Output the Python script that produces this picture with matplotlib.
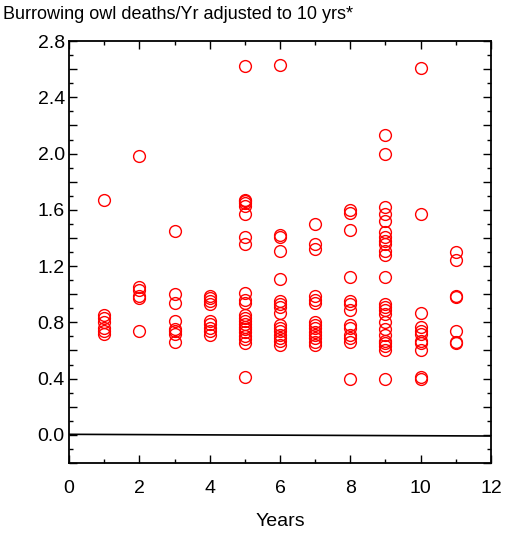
import numpy as np
import matplotlib.pyplot as plt
from matplotlib.ticker import MultipleLocator, FuncFormatter

plt.rcParams['font.family'] = ['Liberation Sans', 'DejaVu Sans']

# deaths/yr per site, grouped by number of years
yr1 = [1.67, 0.85, 0.83, 0.80, 0.76, 0.74, 0.72]
yr2 = [1.98, 1.05, 1.03, 0.99, 0.97, 0.74]
yr3 = [1.45, 1.00, 0.94, 0.81, 0.75, 0.74, 0.72, 0.66]
yr4 = [0.99, 0.97, 0.95, 0.93, 0.81, 0.79, 0.76, 0.74, 0.71]
yr5 = [2.62, 1.67, 1.66, 1.65, 1.63, 1.57, 1.41, 1.36, 1.01, 0.96, 0.94,
       0.85, 0.83, 0.81, 0.79, 0.77, 0.75, 0.73, 0.70, 0.68, 0.65, 0.41]
yr6 = [2.63, 1.42, 1.41, 1.31, 1.11, 0.95, 0.93, 0.91, 0.87,
       0.78, 0.76, 0.74, 0.71, 0.69, 0.67, 0.64]
yr7 = [1.50, 1.36, 1.32, 0.99, 0.96, 0.94, 0.80, 0.78, 0.76, 0.73,
       0.71, 0.69, 0.66, 0.64]
yr8 = [1.60, 1.58, 1.46, 1.12, 0.95, 0.93, 0.89, 0.78, 0.76, 0.71,
       0.69, 0.66, 0.40]
yr9 = [2.13, 2.00, 1.62, 1.57, 1.52, 1.44, 1.41, 1.38, 1.36, 1.31, 1.28,
       1.12, 0.93, 0.91, 0.89, 0.86, 0.80, 0.75, 0.71, 0.67, 0.65, 0.63,
       0.60, 0.40]
yr10 = [2.61, 1.57, 0.87, 0.77, 0.74, 0.72, 0.67, 0.65, 0.60, 0.41, 0.40]
yr11 = [1.30, 1.24, 0.99, 0.98, 0.74, 0.66, 0.65]

groups = [yr1, yr2, yr3, yr4, yr5, yr6, yr7, yr8, yr9, yr10, yr11]
years = np.arange(1, 12)

# reference line
line_x = [0, 12]
line_y = [0.004, -0.008]

fig = plt.figure(figsize=(5.09, 5.33), dpi=100)
ax = fig.add_axes([0.1356, 0.1313, 0.829, 0.7917])

for yr, vals in zip(years, groups):
    ax.plot([yr] * len(vals), vals, 'o', ls='none', mfc='none', mec='red',
            ms=8.5, mew=1.0)

ax.plot(line_x, line_y, color='black', lw=1.2)

ax.set_xlim(0, 12)
ax.set_ylim(-0.2, 2.8)
ax.xaxis.set_major_locator(MultipleLocator(2))
ax.xaxis.set_minor_locator(MultipleLocator(1))
ax.yaxis.set_major_locator(MultipleLocator(0.2))
ax.yaxis.set_minor_locator(MultipleLocator(0.1))


def ylab(v, pos):
    k = round(v / 0.2)
    if k % 2 != 0:
        return ''
    return '%.1f' % v


ax.yaxis.set_major_formatter(FuncFormatter(ylab))
ax.tick_params(which='both', direction='in', top=True, right=True,
               labelsize=14, width=1.0)
ax.tick_params(which='major', length=6)
ax.tick_params(which='minor', length=3)
ax.tick_params(axis='x', which='major', pad=12)
ax.tick_params(axis='y', which='major', pad=3)
for s in ax.spines.values():
    s.set_linewidth(1.3)

ax.set_xlabel('Years', fontsize=14, labelpad=12)
fig.text(0.006, 0.972, 'Burrowing owl deaths/Yr adjusted to 10 yrs*',
         fontsize=13, va='center', ha='left')

fig.savefig('out.png', dpi=100)
